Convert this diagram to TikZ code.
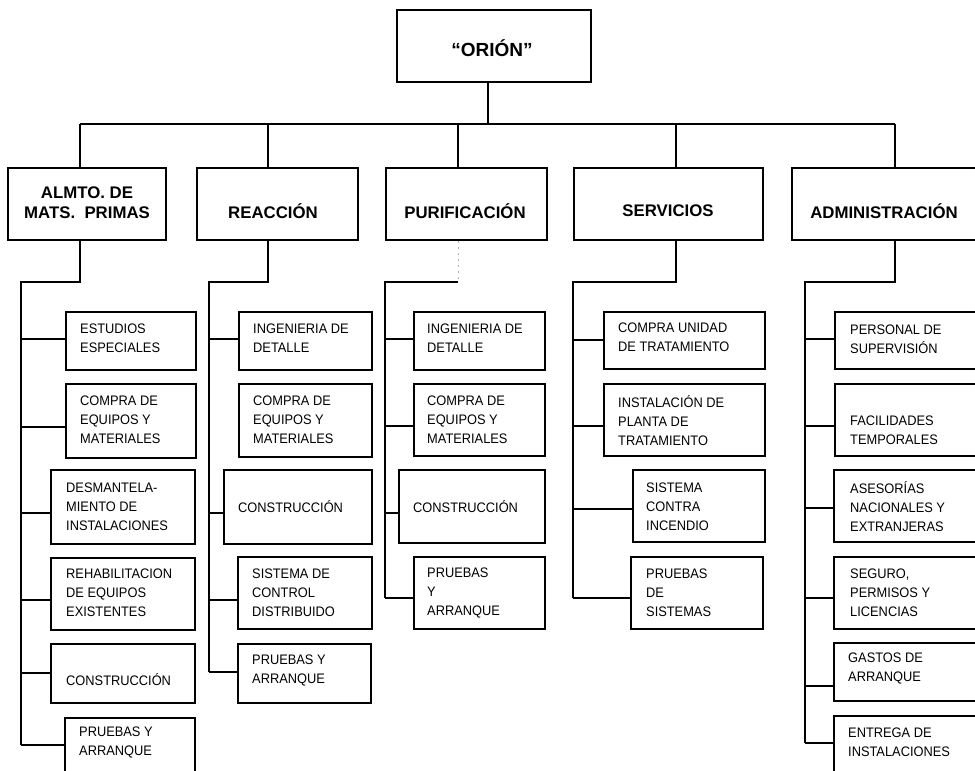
\documentclass[tikz,border=0pt]{standalone}
\usepackage{fontspec}
\setmainfont{Liberation Sans}
\newfontfamily\lvtwo[FakeStretch=0.93]{Liberation Sans}
\newcommand\mkbox[5]{%
  \pgfmathsetmacro\mybw{#4-#2}\pgfmathsetmacro\mybh{#5-#3}%
  \node[bx,minimum width=\mybw bp,minimum height=\mybh bp] (#1) at (#2,#3) {};}
\begin{document}
\begin{tikzpicture}[x=1bp,y=-1bp,
  bx/.style={draw, line width=1.7bp, anchor=north west, inner sep=0pt},
  conn/.style={line width=1.2bp},
  faint/.style={line width=0.6bp, gray!60, dash pattern=on 2bp off 4bp},
  lab/.style={inner sep=0pt, align=left, anchor=west, font=\lvtwo\fontsize{13.8bp}{19bp}\selectfont},
  hd/.style={inner sep=0pt, align=center, font=\bfseries\fontsize{16.8bp}{20bp}\selectfont}]
\useasboundingbox (0,0) rectangle (975,771);
\clip (0,0) rectangle (975,771);
\fill[white] (0,0) rectangle (975,771);

% top and level 1
\mkbox{top}{396}{9}{590}{81}
\node[inner sep=0pt, font=\bfseries\fontsize{19bp}{22bp}\selectfont] (ttop) at (492,48) {“ORIÓN”};
\mkbox{La}{7}{167}{165}{239}
\mkbox{Lb}{196}{167}{357}{239}
\mkbox{Lc}{385}{167}{546}{239}
\mkbox{Ld}{573}{167}{762}{239}
\mkbox{Le}{791}{167}{985}{239}
\node[hd] (tLa) at (87,203) {ALMTO. DE\\MATS.~~PRIMAS};
\node[hd] (tLb) at (273,211) {REACCIÓN};
\node[hd] (tLc) at (465,211) {PURIFICACIÓN};
\node[hd] (tLd) at (668,211) {SERVICIOS};
\node[hd] (tLe) at (884,211) {ADMINISTRACIÓN};

\coordinate (bT) at (488,124);
\coordinate (bA) at (80,124);
\coordinate (bB) at (268,124);
\coordinate (bC) at (458,124);
\coordinate (bD) at (676,124);
\coordinate (bE) at (895,124);
\draw[conn] (top.south -| bT) -- (bT);
\draw[conn] (bA) -- (bE);
\foreach \c/\n in {bA/La,bB/Lb,bC/Lc,bD/Ld,bE/Le} \draw[conn] (\c) -- (\n.north -| \c);

% spines
\coordinate (kA) at (21,282);  \coordinate (eA) at (21,745);
\coordinate (kB) at (209,282); \coordinate (eB) at (209,672);
\coordinate (kC) at (385,282); \coordinate (eC) at (385,598);
\coordinate (kD) at (573,282); \coordinate (eD) at (573,598);
\coordinate (kE) at (805,282); \coordinate (eE) at (805,743);
\coordinate (mC) at (458,282);
\draw[conn] (La.south -| bA) |- (kA) -- (eA);
\draw[conn] (Lb.south -| bB) |- (kB) -- (eB);
\draw[faint] (Lc.south -| bC) -- (mC);
\draw[conn] (mC) -- (kC) -- (eC);
\draw[conn] (Ld.south -| bD) |- (kD) -- (eD);
\draw[conn] (Le.south -| bE) |- (kE) -- (eE);

% ALMTO column
\mkbox{A1}{65}{311}{195}{369}
\mkbox{A2}{65}{383}{195}{457}
\mkbox{A3}{50}{469}{194}{543}
\mkbox{A4}{50}{557}{194}{629}
\mkbox{A5}{50}{643}{194}{702}
\mkbox{A6}{64}{717}{194}{785}
\node[lab] (tA1) at (80,338.5) {ESTUDIOS\\ESPECIALES};
\node[lab] (tA2) at (80,420) {COMPRA DE\\EQUIPOS Y\\MATERIALES};
\node[lab] (tA3) at (66,507) {DESMANTELA-\\MIENTO DE\\INSTALACIONES};
\node[lab] (tA4) at (66,593) {REHABILITACION\\DE EQUIPOS\\EXISTENTES};
\node[lab] (tA5) at (66,680) {CONSTRUCCIÓN};
\node[lab] (tA6) at (79,742.5) {PRUEBAS Y\\ARRANQUE};
\foreach \b/\y in {A1/339,A2/427,A3/513,A4/600,A5/673,A6/745}
  \draw[conn] (kA |- 0,\y) -- (\b.west |- 0,\y);

% REACCION column
\mkbox{B1}{238}{311}{371}{369}
\mkbox{B2}{238}{383}{371}{456}
\mkbox{B3}{223}{469}{371}{543}
\mkbox{B4}{237}{556}{371}{628}
\mkbox{B5}{237}{643}{370}{702}
\node[lab] (tB1) at (253,338.5) {INGENIERIA DE\\DETALLE};
\node[lab] (tB2) at (253,420) {COMPRA DE\\EQUIPOS Y\\MATERIALES};
\node[lab] (tB3) at (238,507) {CONSTRUCCIÓN};
\node[lab] (tB4) at (252,593) {SISTEMA DE\\CONTROL\\DISTRIBUIDO};
\node[lab] (tB5) at (252,670) {PRUEBAS Y\\ARRANQUE};
\foreach \b/\y in {B1/339,B3/513,B4/600,B5/672}
  \draw[conn] (kB |- 0,\y) -- (\b.west |- 0,\y);

% PURIFICACION column
\mkbox{C1}{413}{311}{544}{369}
\mkbox{C2}{413}{383}{544}{455}
\mkbox{C3}{398}{469}{544}{542}
\mkbox{C4}{413}{556}{544}{628}
\node[lab] (tC1) at (427,338.5) {INGENIERIA DE\\DETALLE};
\node[lab] (tC2) at (427,420) {COMPRA DE\\EQUIPOS Y\\MATERIALES};
\node[lab] (tC3) at (413,507) {CONSTRUCCIÓN};
\node[lab] (tC4) at (427,593) {PRUEBAS\\Y\\ARRANQUE};
\foreach \b/\y in {C1/339,C2/426,C3/513,C4/598}
  \draw[conn] (kC |- 0,\y) -- (\b.west |- 0,\y);

% SERVICIOS column
\mkbox{D1}{603}{311}{764}{368}
\mkbox{D2}{603}{383}{764}{455}
\mkbox{D3}{632}{469}{764}{541}
\mkbox{D4}{630}{556}{762}{628}
\node[lab] (tD1) at (618,337.5) {COMPRA UNIDAD\\DE TRATAMIENTO};
\node[lab] (tD2) at (618,421) {INSTALACIÓN DE\\PLANTA DE\\TRATAMIENTO};
\node[lab] (tD3) at (646,507) {SISTEMA\\CONTRA\\INCENDIO};
\node[lab] (tD4) at (646,593) {PRUEBAS\\DE\\SISTEMAS};
\foreach \b/\y in {D1/340,D2/426,D3/509,D4/598}
  \draw[conn] (kD |- 0,\y) -- (\b.west |- 0,\y);

% ADMINISTRACION column
\mkbox{E1}{834}{311}{985}{368}
\mkbox{E2}{834}{383}{985}{455}
\mkbox{E3}{833}{469}{985}{541}
\mkbox{E4}{833}{556}{985}{628}
\mkbox{E5}{833}{642}{985}{700}
\mkbox{E6}{833}{715}{985}{785}
\node[lab] (tE1) at (850,339) {PERSONAL DE\\SUPERVISIÓN};
\node[lab] (tE2) at (850,430.5) {FACILIDADES\\TEMPORALES};
\node[lab] (tE3) at (850,507) {ASESORÍAS\\NACIONALES Y\\EXTRANJERAS};
\node[lab] (tE4) at (850,593) {SEGURO,\\PERMISOS Y\\LICENCIAS};
\node[lab] (tE5) at (848,668) {GASTOS DE\\ARRANQUE};
\node[lab] (tE6) at (848,742.5) {ENTREGA DE\\INSTALACIONES};
\foreach \b/\y in {E1/339,E2/426,E3/508,E4/598,E5/686,E6/743}
  \draw[conn] (kE |- 0,\y) -- (\b.west |- 0,\y);
\end{tikzpicture}
\end{document}
